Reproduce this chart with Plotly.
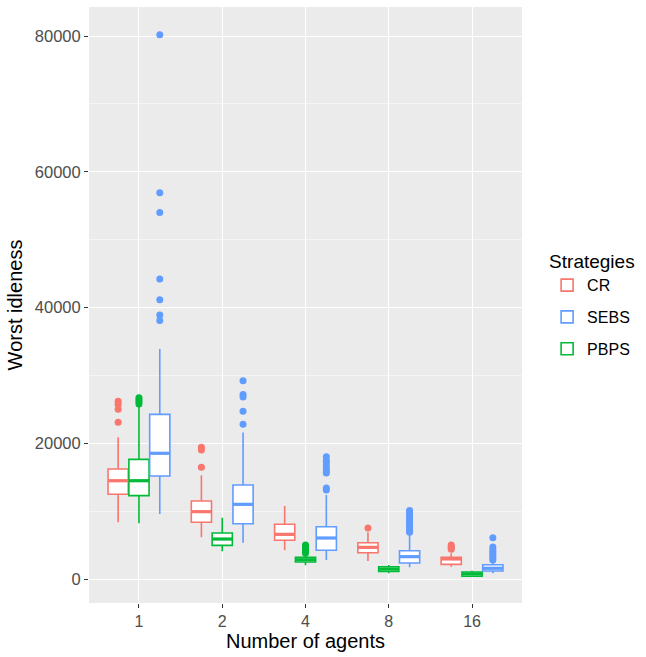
import plotly.graph_objects as go

cats = ["1", "2", "4", "8", "16"]
strategies = ["CR", "PBPS", "SEBS"]          # dodge order in each group
legend_rank = {"CR": 1, "SEBS": 2, "PBPS": 3}
colors = {"CR": "#F8766D", "PBPS": "#00BA38", "SEBS": "#619CFF"}

cr_q1 = [12480, 8350, 5700, 3875, 2160]
cr_med = [14480, 9920, 6580, 4665, 2950]
cr_q3 = [16200, 11490, 8060, 5350, 3200]
cr_lo = [8350, 6140, 4230, 2650, 1820]
cr_hi = [20880, 15280, 10760, 6880, 3780]
cr_out = [[26200, 25700, 25000, 23100], [19400, 19000, 16450], [], [7510], [5000, 4800, 4600, 4400]]

pb_q1 = [12280, 4960, 2500, 1130, 400]
pb_med = [14480, 5890, 2840, 1470, 740]
pb_q3 = [17630, 6780, 3200, 1815, 1030]
pb_lo = [8200, 4080, 2020, 835, 400]
pb_hi = [25400, 9030, 3600, 2060, 1220]
pb_out = [[25800, 26100, 26400, 26700], [], [3800, 4100, 4400, 4700, 5000], [], []]

se_q1 = [15180, 8150, 4230, 2360, 1180]
se_med = [18520, 11000, 6040, 3290, 1580]
se_q3 = [24260, 13850, 7700, 4170, 2110]
se_lo = [9580, 5350, 2800, 1720, 835]
se_hi = [33900, 21600, 12380, 6730, 2460]
se_out = [[80200, 56900, 54000, 44200, 41150, 38900, 38100],
          [29200, 27200, 26800, 24700, 22800],
          [18000, 17500, 17200, 16700, 16300, 15900, 15600, 13400, 13100],
          [10100, 9700, 9300, 9000, 8700, 8400, 8100, 7800, 7500, 7200, 6900],
          [6080, 4700, 4300, 4000, 3700, 3400, 3100, 2800]]

y_ticks = [0, 20000, 40000, 60000, 80000]

stats = {
    "CR": (cr_q1, cr_med, cr_q3, cr_lo, cr_hi, cr_out),
    "PBPS": (pb_q1, pb_med, pb_q3, pb_lo, pb_hi, pb_out),
    "SEBS": (se_q1, se_med, se_q3, se_lo, se_hi, se_out),
}

box_w = 0.25
fig = go.Figure()
for k, s in enumerate(strategies):
    q1, med, q3, lo, hi, out = stats[s]
    off = (k - 1) * box_w
    pos = [i + off for i in range(len(cats))]
    c = colors[s]
    fig.add_trace(go.Box(
        x=pos, q1=q1, median=med, q3=q3, lowerfence=lo, upperfence=hi,
        name=s, legendrank=legend_rank[s], legendgroup=s, width=box_w * 0.97,
        fillcolor="white", line=dict(color=c, width=1.6), whiskerwidth=0,
        boxpoints=False, hoverinfo="skip",
    ))
    mx, my = [], []
    for p, m in zip(pos, med):
        mx += [p - box_w * 0.97 / 2, p + box_w * 0.97 / 2, None]
        my += [m, m, None]
    fig.add_trace(go.Scatter(x=mx, y=my, mode="lines", line=dict(color=c, width=3.2),
                             legendgroup=s, showlegend=False, hoverinfo="skip"))
    ox, oy = [], []
    for p, vals in zip(pos, out):
        ox += [p] * len(vals)
        oy += vals
    fig.add_trace(go.Scatter(x=ox, y=oy, mode="markers", marker=dict(color=c, size=7),
                             legendgroup=s, showlegend=False, hoverinfo="skip"))

fig.update_layout(
    width=646, height=657,
    margin=dict(l=89, r=124, t=7, b=54),
    plot_bgcolor="#EBEBEB", paper_bgcolor="white",
    font=dict(family="Liberation Sans, Arial, sans-serif", color="#000000"),
    boxmode="overlay",
    showlegend=True,
    legend=dict(
        title=dict(text="Strategies", font=dict(size=19)),
        font=dict(size=16), x=1.058, xanchor="left", y=0.5, yanchor="middle",
        bgcolor="rgba(0,0,0,0)", tracegroupgap=8, traceorder="grouped",
        borderwidth=0,
    ),
    xaxis=dict(
        range=[-0.6, len(cats) - 0.4], tickvals=list(range(len(cats))), ticktext=cats,
        showgrid=True, gridcolor="white", gridwidth=1.3, zeroline=False,
        ticks="outside", ticklen=4, tickcolor="#333333", tickwidth=1.1,
        tickfont=dict(size=16, color="#4D4D4D"),
        title=dict(text="Number of agents", font=dict(size=20), standoff=4),
        showline=False,
    ),
    yaxis=dict(
        range=[-3536, 84273], tickvals=y_ticks, ticktext=[str(v) for v in y_ticks],
        showgrid=True, gridcolor="white", gridwidth=1.3, zeroline=False,
        ticks="outside", ticklen=4, tickcolor="#333333", tickwidth=1.1,
        tickfont=dict(size=16.5, color="#4D4D4D"),
        title=dict(text="Worst idleness", font=dict(size=20), standoff=6),
        minor=dict(dtick=10000, tick0=0, showgrid=True, gridcolor="#F5F5F5", gridwidth=0.6, ticks=""),
        showline=False,
    ),
)

fig.write_html("out.html")
